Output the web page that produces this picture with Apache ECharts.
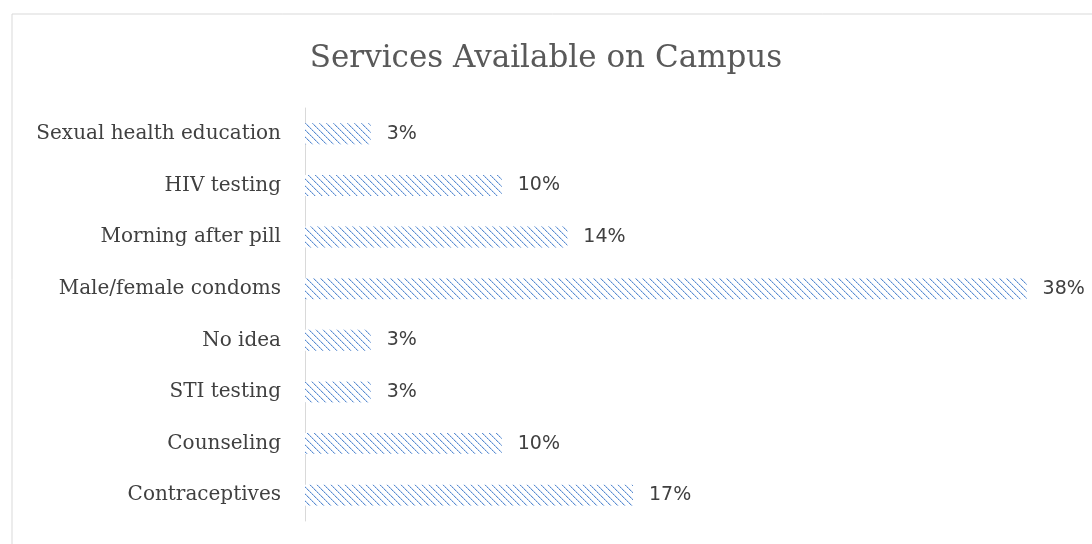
<!DOCTYPE html>
<html>
<head>
<meta charset="utf-8">
<script src="https://cdn.jsdelivr.net/npm/echarts@6/dist/echarts.min.js"></script>
<style>
  html, body { margin: 0; padding: 0; background: #fff; }
  #main { width: 1092px; height: 544px; }
</style>
</head>
<body>
<div id="main"></div>
<script>
// categories listed bottom to top (as echarts category y axis draws them)
var categories = ['Contraceptives', 'Counseling', 'STI testing', 'No idea',
	'Male/female condoms', 'Morning after pill', 'HIV testing', 'Sexual health education'];
// shares in percent (29 answers)
var values = [17.24, 10.34, 3.45, 3.45, 37.93, 13.79, 10.34, 3.45];

function makeHatch() {
	var n = 7;
	var c = document.createElement('canvas');
	c.width = n;
	c.height = n;
	var ctx = c.getContext('2d');
	ctx.fillStyle = '#ffffff';
	ctx.fillRect(0, 0, n, n);
	for (var i = 0; i < n; i++) {
		ctx.fillStyle = (i % 2 == 0) ? '#5b8cd0' : '#8fb2e2';
		ctx.fillRect(i, i, 1, 1);
		ctx.fillStyle = '#d6e3f5';
		ctx.fillRect((i + 1) % n, i, 1, 1);
	}
	return c;
}

var chart = echarts.init(document.getElementById('main'));
chart.setOption({
	animation: false,
	title: {
		text: 'Services Available on Campus',
		left: 'center',
		top: 38,
		textStyle: {
			fontFamily: 'DejaVu Serif',
			fontSize: 31,
			fontWeight: 'normal',
			color: '#595959',
		},
	},
	graphic: [{
		type: 'rect',
		shape: { x: 12, y: 14, width: 1100, height: 600 },
		style: { fill: 'none', stroke: '#d9d9d9', lineWidth: 1 },
		silent: true,
	}],
	grid: { left: 305, right: 26, top: 108, bottom: 23, containLabel: false },
	xAxis: {
		type: 'value',
		min: 0,
		max: 40,
		show: false,
	},
	yAxis: {
		type: 'category',
		data: categories,
		axisLine: { show: true, lineStyle: { color: '#d9d9d9' } },
		axisTick: { show: false },
		axisLabel: {
			margin: 24,
			fontFamily: 'DejaVu Serif',
			fontSize: 20,
			color: '#404040',
		},
	},
	series: [{
		type: 'bar',
		data: values,
		barWidth: 21,
		itemStyle: {
			color: { image: makeHatch(), repeat: 'repeat' },
		},
		label: {
			show: true,
			position: 'right',
			distance: 16,
			fontFamily: 'DejaVu Sans',
			fontSize: 19,
			color: '#404040',
			formatter: function(p) {
				return Math.round(p.value) + '%';
			},
		},
	}],
});
</script>
</body>
</html>
